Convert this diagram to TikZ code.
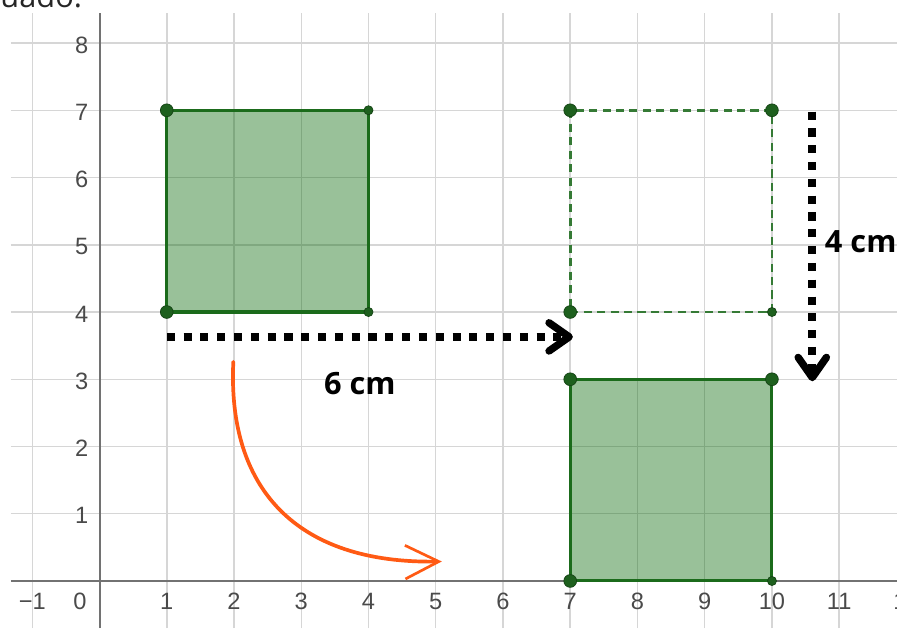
\documentclass[tikz,border=0pt]{standalone}
\usepackage{fontspec}
\setmainfont{Open Sans}
\newfontfamily\ticksfont{Liberation Sans}
\usetikzlibrary{arrows.meta}
\definecolor{gridgray}{HTML}{D6D6D6}
\definecolor{axisgray}{HTML}{727272}
\definecolor{ggreen}{HTML}{006400}
\definecolor{edgegreen}{HTML}{1B6B1B}
\definecolor{ptgreen}{HTML}{1E601E}
\definecolor{dashgreen}{HTML}{357A35}
\definecolor{orng}{HTML}{FF5A14}
\definecolor{ticktext}{HTML}{4A4A4A}
\tikzset{
  gridline/.style={draw=gridgray, line width=0.022cm},
  axisline/.style={draw=axisgray, line width=0.03cm},
  ticklbl/.style={font=\ticksfont\fontsize{10}{12}\selectfont, text=ticktext, inner sep=0pt},
  sqfill/.style={fill=ggreen, fill opacity=0.40},
  sqedge/.style={draw=edgegreen, line width=0.045cm, line join=miter},
  sqdash/.style={draw=dashgreen, line width=0.04cm, dash pattern=on 0.12cm off 0.08cm},
  bigpt/.style={circle, fill=ptgreen, draw=ptgreen!70!black, line width=0.3pt, minimum size=0.19cm, inner sep=0pt},
  smallpt/.style={circle, fill=ptgreen, draw=ptgreen!70!black, line width=0.3pt, minimum size=0.135cm, inner sep=0pt},
  dotarrow/.style={draw=black, line width=0.12cm, dash pattern=on 0.12cm off 0.13cm,
    -{Straight Barb[length=0.3cm, width=0.42cm, line width=0.11cm 0, round]}},
  orangearrow/.style={draw=orng, line width=0.055cm, line cap=round,
    -{Straight Barb[length=0.5cm, width=0.5cm, line width=0.04cm 0]}},
  cmlabel/.style={font=\bfseries\fontsize{13}{15}\selectfont, text=black, inner sep=0pt}
}
\begin{document}
\begin{tikzpicture}
\useasboundingbox (-1.48,-0.70) rectangle (11.86,8.64);
\clip (-1.48,-0.70) rectangle (11.86,8.64);
% grid
\foreach \x in {-1,...,11} \draw[gridline] (\x,-0.70) -- (\x,8.45);
\foreach \y in {0,...,8} \draw[gridline] (-1.32,\y) -- (11.86,\y);
% axes
\draw[axisline] (-1.32,0) -- (11.86,0);
\draw[axisline] (0,-0.70) -- (0,8.45);
% tick labels
\node[ticklbl] (xm1) at (-1,-0.30) {−1};
\node[ticklbl] (x0) at (-0.29,-0.30) {0};
\foreach \x in {1,...,12} \node[ticklbl] (x\x) at (\x,-0.30) {\x};
\foreach \y in {1,...,8} \node[ticklbl, anchor=east] (y\y) at (-0.16,\y-0.03) {\y};
% top text (cut off, as in the reference)
\node[anchor=base west, inner sep=0pt, font=\fontsize{13}{15}\selectfont, text=black!85] (toptext) at (-1.48,8.535) {uado.};
% original square
\coordinate (A1) at (1,4); \coordinate (B1) at (4,4); \coordinate (C1) at (4,7); \coordinate (D1) at (1,7);
\fill[sqfill] (A1) rectangle (C1);
\draw[sqedge] (A1) -- (B1) -- (C1) -- (D1) -- cycle;
% dashed intermediate square
\coordinate (A2) at (7,4); \coordinate (B2) at (10,4); \coordinate (C2) at (10,7); \coordinate (D2) at (7,7);
\draw[sqdash] (A2) -- (B2) -- (C2) -- (D2) -- cycle;
% translated square
\coordinate (A3) at (7,0); \coordinate (B3) at (10,0); \coordinate (C3) at (10,3); \coordinate (D3) at (7,3);
\fill[sqfill] (A3) rectangle (C3);
\draw[sqedge] (A3) -- (B3) -- (C3) -- (D3) -- cycle;
% points
\node[bigpt] (pA1) at (A1) {}; \node[smallpt] (pB1) at (B1) {};
\node[smallpt] (pC1) at (C1) {}; \node[bigpt] (pD1) at (D1) {};
\node[bigpt] (pA2) at (A2) {}; \node[smallpt] (pB2) at (B2) {};
\node[bigpt] (pC2) at (C2) {}; \node[bigpt] (pD2) at (D2) {};
\node[bigpt] (pA3) at (A3) {}; \node[smallpt] (pB3) at (B3) {};
\node[bigpt] (pC3) at (C3) {}; \node[bigpt] (pD3) at (D3) {};
% translation arrows
\coordinate (h1) at (1,3.63); \coordinate (h2) at (7.04,3.63);
\draw[dotarrow] (h1) -- (h2);
\coordinate (v1) at (10.6,6.98); \coordinate (v2) at (10.6,2.97);
\draw[dotarrow] (v1) -- (v2);
\node[cmlabel] (l6) at (3.87,2.94) {6 cm};
\node[cmlabel] (l4) at (11.32,5.04) {4 cm};
% orange curved arrow
\coordinate (o1) at (1.99,3.26); \coordinate (o2) at (5.09,0.29);
\draw[orangearrow] (o1) .. controls (1.9,1.4) and (2.9,0.25) .. (o2);
\end{tikzpicture}
\end{document}
